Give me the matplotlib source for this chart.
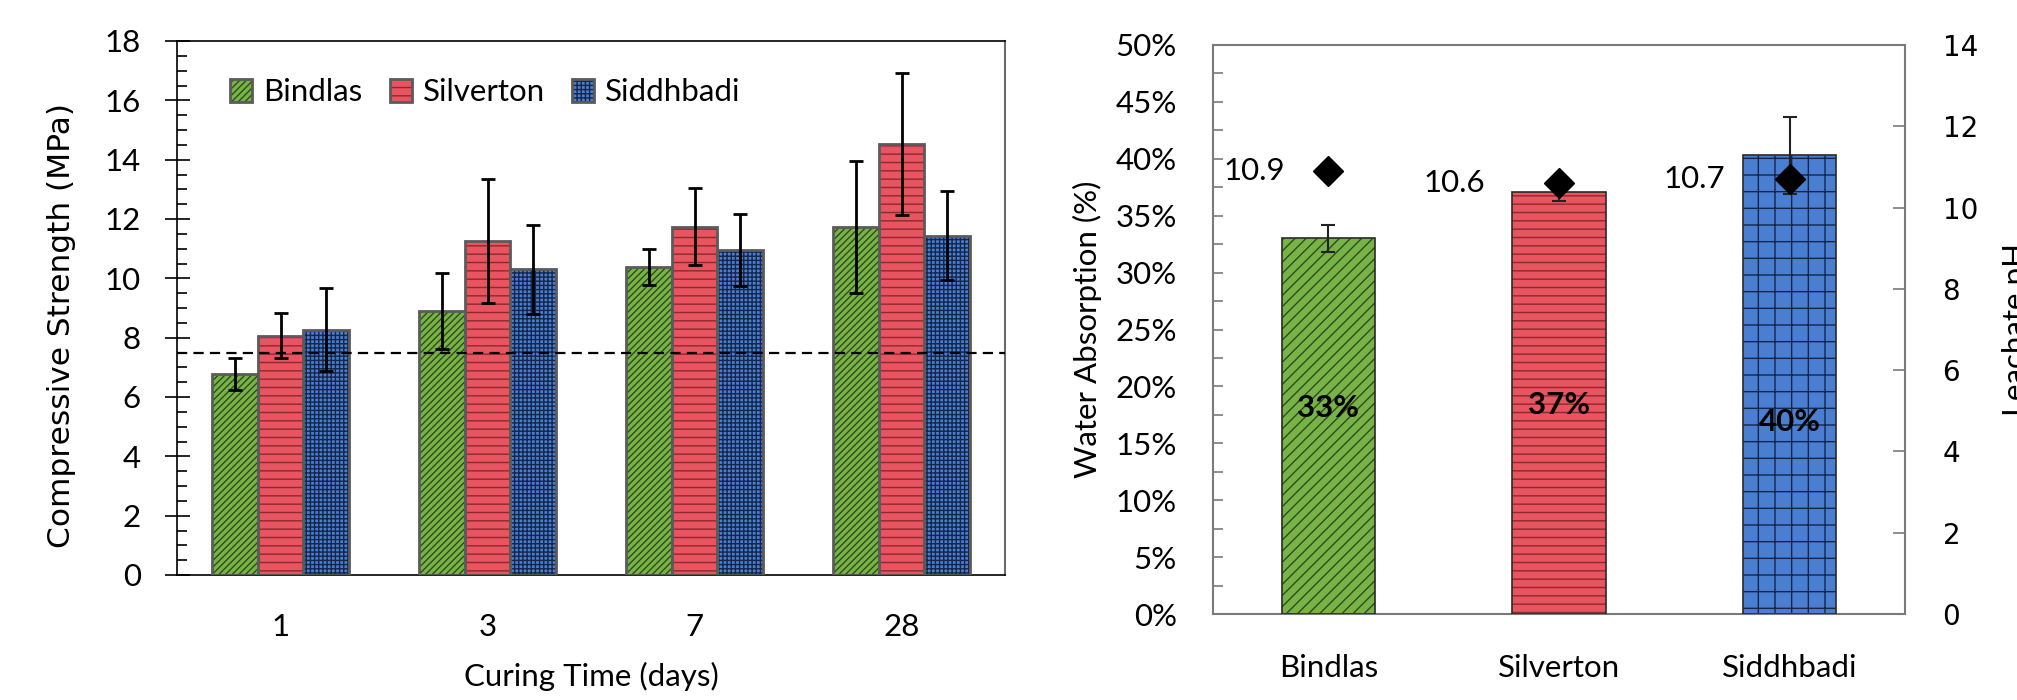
import matplotlib
matplotlib.use("Agg")
import matplotlib.pyplot as plt
from matplotlib.ticker import MultipleLocator, PercentFormatter
import numpy as np

# ---- data: compressive strength (left panel) ----
days = ["1", "3", "7", "28"]
bricks = ["Bindlas", "Silverton", "Siddhbadi"]
strength = {
    "Bindlas":   [6.77, 8.89, 10.38, 11.74],
    "Silverton": [8.07, 11.26, 11.74, 14.53],
    "Siddhbadi": [8.27, 10.31, 10.95, 11.43],
}
strength_err = {
    "Bindlas":   [0.55, 1.28, 0.61, 2.23],
    "Silverton": [0.75, 2.10, 1.30, 2.40],
    "Siddhbadi": [1.40, 1.50, 1.22, 1.50],
}
threshold = 7.5

# ---- data: water absorption + leachate pH (right panel) ----
absorption = [33.0, 37.1, 40.3]
absorption_err = [1.2, 0.8, 3.4]
absorption_labels = ["33%", "37%", "40%"]
leachate_ph = [10.9, 10.6, 10.7]

# style
face = {"Bindlas": "#78b347", "Silverton": "#e8545f", "Siddhbadi": "#4a7ed0"}
hatch_col = {"Bindlas": "#2f4a1c", "Silverton": "#8a2a31", "Siddhbadi": "#14264a"}
hatch_left = {"Bindlas": "/////", "Silverton": "--", "Siddhbadi": "++++"}
hatch_right = {"Bindlas": "///", "Silverton": "--", "Siddhbadi": "+"}

FONT = "Lato"
FS = 22.5
plt.rcParams["font.family"] = [FONT, "DejaVu Sans"]
plt.rcParams["font.size"] = FS
plt.rcParams["hatch.linewidth"] = 1.0

fig = plt.figure(figsize=(20.17, 7.0), dpi=100)
W, H = 2017, 700


def px_axes(x0, y0, x1, y1):
    return fig.add_axes([x0 / W, 1 - y1 / H, (x1 - x0) / W, (y1 - y0) / H])


# ================= left panel =================
ax = px_axes(177, 41, 1005, 575)
x = np.arange(len(days))
bw = 0.222
handles = []
for i, b in enumerate(bricks):
    xs = x + (i - 1) * bw
    ax.bar(xs, strength[b], bw, color=face[b], hatch=hatch_left[b],
           edgecolor=hatch_col[b], linewidth=0, zorder=2)
    ax.bar(xs, strength[b], bw, fill=False, edgecolor="#5b5b5b",
           linewidth=2, zorder=3)
    ax.errorbar(xs, strength[b], yerr=strength_err[b], fmt="none",
                ecolor="black", elinewidth=2, capsize=5, capthick=2, zorder=5)
    p1 = plt.Rectangle((0, 0), 1, 1, facecolor=face[b], hatch=hatch_left[b],
                       edgecolor=hatch_col[b], linewidth=0)
    p2 = plt.Rectangle((0, 0), 1, 1, fill=False, edgecolor="#5b5b5b", linewidth=2)
    handles.append((p1, p2))

ax.axhline(threshold, color="black", lw=1.6, linestyle=(0, (4.6, 2.8)), zorder=4)

ax.set_xlim(-0.5, len(days) - 0.5)
ax.set_ylim(0, 18)
ax.yaxis.set_major_locator(MultipleLocator(2))
ax.yaxis.set_minor_locator(MultipleLocator(0.5))
ax.set_xticks(x, days)
ax.tick_params(axis="x", length=0, pad=27)
ax.tick_params(axis="y", which="major", direction="inout", length=18, width=1.2, pad=17)
ax.tick_params(axis="y", which="minor", direction="in", length=7.5, width=1.2)
for s in ["left", "bottom", "top"]:
    ax.spines[s].set_color("black")
    ax.spines[s].set_linewidth(1.2)
ax.spines["right"].set_color("#6a6a6a")
ax.spines["right"].set_linewidth(1.5)

ax.set_xlabel("Curing Time (days)", fontsize=FS, va="center")
ax.xaxis.set_label_coords(0.501, (575 - 676) / 534)
ax.set_ylabel("Compressive Strength (MPa)", fontsize=22.5, va="center",
              family="DejaVu Sans")
ax.yaxis.set_label_coords((62 - 177) / 828, (575 - 326) / 534)

ax.legend(handles, bricks, ncol=3, loc="upper left", frameon=False,
          bbox_to_anchor=(0.064, 0.93), borderaxespad=0, borderpad=0,
          handlelength=0.72, handleheight=0.72, handletextpad=0.35,
          columnspacing=0.86, fontsize=FS)

# ================= right panel =================
gray = "#7a7a7a"
ax2 = px_axes(1213, 45, 1905, 614)
xr = np.arange(len(bricks))
bw2 = 0.405
for i, b in enumerate(bricks):
    ax2.bar(xr[i], absorption[i], bw2, color=face[b], hatch=hatch_right[b],
            edgecolor=hatch_col[b], linewidth=0, zorder=2)
    ax2.bar(xr[i], absorption[i], bw2, fill=False, edgecolor="#2a2a2a",
            linewidth=1.2, zorder=3)
ax2.errorbar(xr, absorption, yerr=absorption_err, fmt="none", ecolor="#222222",
             elinewidth=1.5, capsize=5, capthick=1.5, zorder=4)
label_y = [18.1, 18.4, 16.9]
for i, lab in enumerate(absorption_labels):
    ax2.text(xr[i], label_y[i], lab, ha="center", va="center",
             fontsize=FS, fontweight="bold", zorder=6)

ax2.set_xlim(-0.5, len(bricks) - 0.5)
ax2.set_ylim(0, 50)
ax2.yaxis.set_major_locator(MultipleLocator(5))
ax2.yaxis.set_minor_locator(MultipleLocator(2.5))
ax2.yaxis.set_major_formatter(PercentFormatter(100, decimals=0))
ax2.set_xticks(xr, bricks)
ax2.tick_params(axis="x", length=0, pad=29)
ax2.tick_params(axis="y", which="both", direction="in", length=7.5,
                width=1.2, color=gray, pad=26)
for s in ax2.spines.values():
    s.set_color(gray)
    s.set_linewidth(1.5)
ax2.set_ylabel("Water Absorption (%)", fontsize=FS, va="center")
ax2.yaxis.set_label_coords((1087 - 1213) / 692, 0.5)

ax3 = ax2.twinx()
ax3.set_ylim(0, 14)
ax3.yaxis.set_major_locator(MultipleLocator(2))
ax3.plot(xr, leachate_ph, linestyle="none", marker="D", ms=15,
         color="black", zorder=7)
ph_dx = [-43, -74, -65]
for i, v in enumerate(leachate_ph):
    ax3.annotate(f"{v}", (xr[i], v), xytext=(ph_dx[i], 0),
                 textcoords="offset pixels", ha="right", va="center",
                 fontsize=FS)
ax3.tick_params(axis="y", direction="in", length=8.5, width=1.2,
                color=gray, pad=27, labelsize=20)
for t in ax3.get_yticklabels():
    t.set_family("DejaVu Sans")
for s in ax3.spines.values():
    s.set_visible(False)
# the reference crops this label at the right edge of the image
ax3.set_ylabel("Leachate pH", fontsize=FS, va="center", rotation=90)
ax3.yaxis.set_label_coords((2016 - 1213) / 692, 0.5)

fig.savefig("out.png", dpi=100)
